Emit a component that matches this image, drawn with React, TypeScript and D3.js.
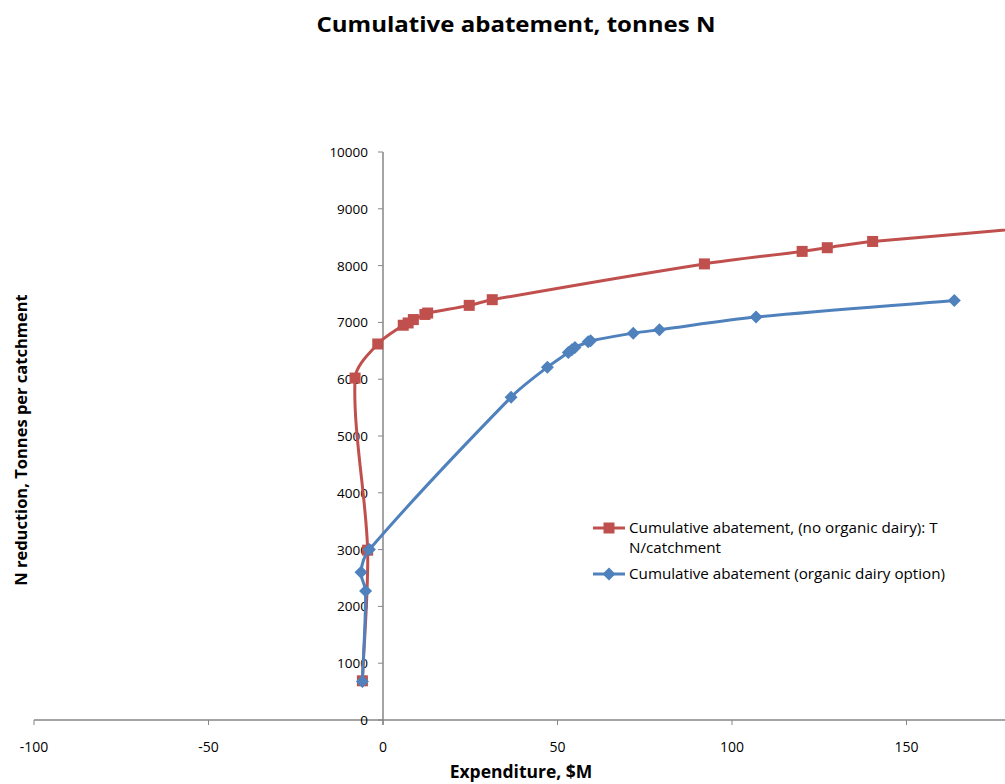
import React from "react";
import * as d3 from "d3";

// Cumulative abatement without the organic dairy option: [expenditure $M, tonnes N]
const noOrganicX = [-5.9, -4.4, -8.0, -1.5, 5.8, 7.2, 8.7, 12.0, 12.8, 24.7, 31.3, 92.1, 120.1, 127.3, 140.3, 195];
const noOrganicY = [690, 2990, 6020, 6620, 6950, 6990, 7050, 7140, 7165, 7300, 7400, 8030, 8250, 8315, 8425, 8710];

// Cumulative abatement with the organic dairy option
const organicX = [-5.9, -5.0, -6.3, -3.9, 36.7, 47.1, 53.1, 54.1, 55.0, 58.8, 59.5, 71.7, 79.2, 106.9, 163.7];
const organicY = [680, 2272, 2601, 3000, 5684, 6212, 6470, 6517, 6558, 6658, 6676, 6811, 6870, 7093, 7386];

const xTicks = [-100, -50, 0, 50, 100, 150];
const yTicks = [0, 1000, 2000, 3000, 4000, 5000, 6000, 7000, 8000, 9000, 10000];

const seriesNames = [
  ["Cumulative abatement, (no organic dairy): T", "N/catchment"],
  ["Cumulative abatement (organic dairy option)"],
];

const W = 1005;
const H = 784;
const RED = "#C0504D";
const BLUE = "#4F81BD";
const AXIS = "#868686";
const FONT = "'Open Sans', 'Noto Sans', sans-serif";

// Smoothed polyline: tangent follows the neighbouring points, handle length
// is a fraction of each adjoining segment so short segments never overshoot.
function smoothPath(pts: [number, number][]): string {
  const p = d3.path();
  if (!pts.length) return "";
  p.moveTo(pts[0][0], pts[0][1]);
  const n = pts.length;
  const dir = (i: number): [number, number] => {
    const a = pts[Math.max(0, i - 1)];
    const b = pts[Math.min(n - 1, i + 1)];
    const dx = b[0] - a[0];
    const dy = b[1] - a[1];
    const len = Math.hypot(dx, dy) || 1;
    return [dx / len, dy / len];
  };
  for (let i = 0; i < n - 1; i++) {
    const a = pts[i];
    const b = pts[i + 1];
    const seg = Math.hypot(b[0] - a[0], b[1] - a[1]) * 0.3;
    const da = dir(i);
    const db = dir(i + 1);
    p.bezierCurveTo(
      a[0] + da[0] * seg,
      a[1] + da[1] * seg,
      b[0] - db[0] * seg,
      b[1] - db[1] * seg,
      b[0],
      b[1]
    );
  }
  return p.toString();
}

export default function App() {
  const x = d3.scaleLinear().domain([-100, 200]).range([34, 34 + 300 * 3.49]);
  const y = d3.scaleLinear().domain([0, 10000]).range([720, 152]);
  const x0 = x(0);
  const y0 = y(0);

  const redPts: [number, number][] = noOrganicX.map((v, i) => [x(v), y(noOrganicY[i])]);
  const bluePts: [number, number][] = organicX.map((v, i) => [x(v), y(organicY[i])]);

  const sq = 11;
  const dia = 6.5;
  const diamond = (cx: number, cy: number) =>
    `M${cx},${cy - dia}L${cx + dia},${cy}L${cx},${cy + dia}L${cx - dia},${cy}Z`;

  const legX = 593;
  const legY1 = 528;
  const legY2 = 574;

  return (
    <svg
      width={W}
      height={H}
      style={{ position: "absolute", left: 0, top: 0, background: "#fff" }}
      fontFamily={FONT}
    >
      <text
        x={516}
        y={32}
        textAnchor="middle"
        fontSize={22}
        fontWeight="bold"
        fill="#000"
        textLength={399}
        lengthAdjust="spacingAndGlyphs"
      >
        Cumulative abatement, tonnes N
      </text>

      {/* axes */}
      <line x1={x(-100)} x2={W} y1={y0} y2={y0} stroke={AXIS} strokeWidth={1.5} />
      <line x1={x0} x2={x0} y1={y(10000)} y2={y0 + 5} stroke={AXIS} strokeWidth={1.5} />
      {xTicks.map((t) => (
        <g key={"xt" + t}>
          <line x1={x(t)} x2={x(t)} y1={y0} y2={y0 + 5} stroke={AXIS} strokeWidth={1} />
          <text x={x(t)} y={752} textAnchor="middle" fontSize={14} fill="#000">
            {t}
          </text>
        </g>
      ))}
      {yTicks.map((t) => (
        <g key={"yt" + t}>
          <line x1={x0 - 5} x2={x0} y1={y(t)} y2={y(t)} stroke={AXIS} strokeWidth={1} />
          <text x={368} y={y(t) + 5} textAnchor="end" fontSize={13.5} fill="#000">
            {t}
          </text>
        </g>
      ))}

      <text x={521} y={778} textAnchor="middle" fontSize={17.5} fontWeight="bold" fill="#000">
        Expenditure, $M
      </text>
      <text
        transform={`translate(27,440) rotate(-90)`}
        textAnchor="middle"
        fontSize={16.5}
        fontWeight="bold"
        fill="#000"
      >
        N reduction, Tonnes per catchment
      </text>

      {/* series */}
      <path d={smoothPath(redPts)} fill="none" stroke={RED} strokeWidth={3} />
      {redPts.map((p, i) => (
        <rect key={"r" + i} x={p[0] - sq / 2} y={p[1] - sq / 2} width={sq} height={sq} fill={RED} />
      ))}
      <path d={smoothPath(bluePts)} fill="none" stroke={BLUE} strokeWidth={3} />
      {bluePts.map((p, i) => (
        <path key={"b" + i} d={diamond(p[0], p[1])} fill={BLUE} />
      ))}

      {/* legend */}
      <line x1={legX} x2={legX + 32} y1={legY1} y2={legY1} stroke={RED} strokeWidth={3} />
      <rect x={legX + 16 - sq / 2} y={legY1 - sq / 2} width={sq} height={sq} fill={RED} />
      <text x={629} y={legY1 + 5} fontSize={15.2} fill="#000">
        {seriesNames[0][0]}
      </text>
      <text x={629} y={legY1 + 24.5} fontSize={15.2} fill="#000">
        {seriesNames[0][1]}
      </text>
      <line x1={legX} x2={legX + 32} y1={legY2} y2={legY2} stroke={BLUE} strokeWidth={3} />
      <path d={diamond(legX + 16, legY2)} fill={BLUE} />
      <text x={629} y={legY2 + 5} fontSize={15.2} fill="#000">
        {seriesNames[1][0]}
      </text>
    </svg>
  );
}
